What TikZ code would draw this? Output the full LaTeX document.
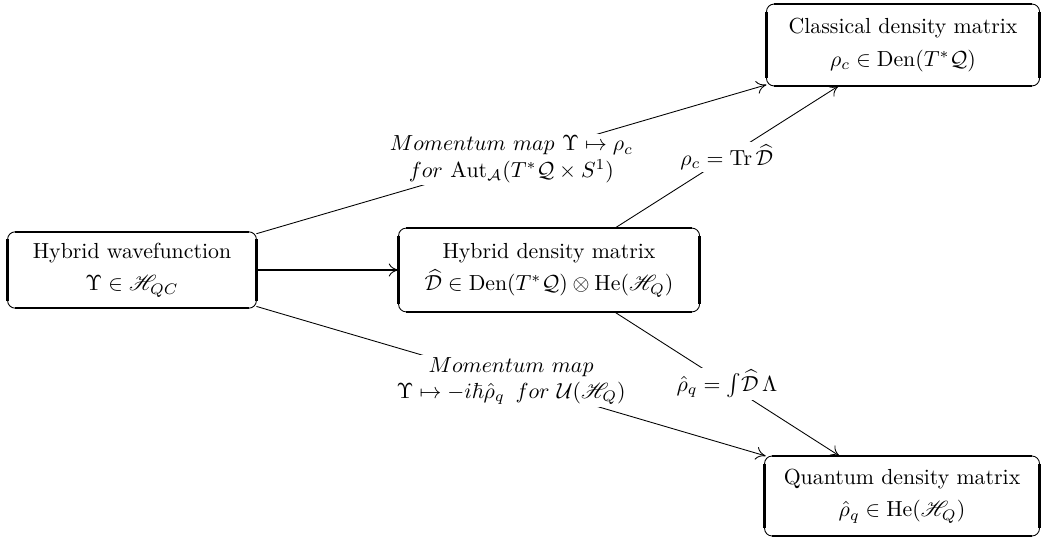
\documentclass[tikz,border=0pt]{standalone}
\usepackage{amsmath,amssymb}
\usepackage{mathrsfs}
\usetikzlibrary{arrows.meta, positioning}

\begin{document}
\begin{tikzpicture}[
    x=0.01612cm, y=-0.01612cm,
    box/.style={draw, rounded corners=3.5pt, align=center, inner sep=2pt, outer sep=0pt},
    sideline/.style={line width=1.2pt},
    edgeline/.style={line width=0.7pt},
    arrow/.style={-{To[length=4.5pt,width=6pt]}},
    bigarrow/.style={-{To[length=4.5pt,width=6pt,line width=0.4pt]}, line width=1.2pt},
    lbl/.style={fill=white, align=center, inner sep=1pt},
]
\useasboundingbox (0,0) rectangle (1043,538);

\node[box, minimum width=4.01cm, minimum height=1.23cm] (hw) at (132,270)
  {Hybrid wavefunction\\[3pt] $\Upsilon\in\mathscr{H}_{QC}$};
\node[box, minimum width=4.85cm, minimum height=1.35cm, right=2.29cm of hw] (hd)
  {Hybrid density matrix\\[3pt] $\widehat{\mathcal{D}}\in\mathrm{Den}(T^*\mathcal{Q})\otimes\mathrm{He}(\mathscr{H}_Q)$};
\node[box, minimum width=4.40cm, minimum height=1.32cm] (cd) at (903,45)
  {Classical density matrix\\[3pt] $\rho_c\in\mathrm{Den}(T^*\mathcal{Q})$};
\node[box, minimum width=4.43cm, minimum height=1.29cm] (qd) at (902,496)
  {Quantum density matrix\\[3pt] $\hat{\rho}_q\in\mathrm{He}(\mathscr{H}_Q)$};

% frame sides
\foreach \n in {hw,hd,cd,qd}{
  \draw[sideline] ([yshift=-3.5pt]\n.north west) -- ([yshift=3.5pt]\n.south west);
  \draw[sideline] ([yshift=-3.5pt]\n.north east) -- ([yshift=3.5pt]\n.south east);
  \draw[edgeline] ([xshift=3.5pt]\n.north west) -- ([xshift=-3.5pt]\n.north east);
  \draw[edgeline] ([xshift=3.5pt]\n.south west) -- ([xshift=-3.5pt]\n.south east);
}

\draw[bigarrow] (hw) -- (hd);
\draw[arrow] (hw) -- (cd)
  node[lbl, midway] {$Momentum\ map\ \Upsilon\mapsto\rho_c$\\ $for\ \mathrm{Aut}_{\mathcal{A}}(T^*\mathcal{Q}\times S^1)$};
\draw[arrow] (hw) -- (qd)
  node[lbl, midway] {$Momentum\ map$\\ $\Upsilon\mapsto -i\hbar\hat{\rho}_q\ \,for\ \mathcal{U}(\mathscr{H}_Q)$};
\draw[arrow] (hd) -- (cd)
  node[lbl, midway] {$\rho_c=\operatorname{Tr}\widehat{\mathcal{D}}$};
\draw[arrow] (hd) -- (qd)
  node[lbl, midway] {$\hat{\rho}_q=\int\!\widehat{\mathcal{D}}\,\Lambda$};
\end{tikzpicture}
\end{document}
